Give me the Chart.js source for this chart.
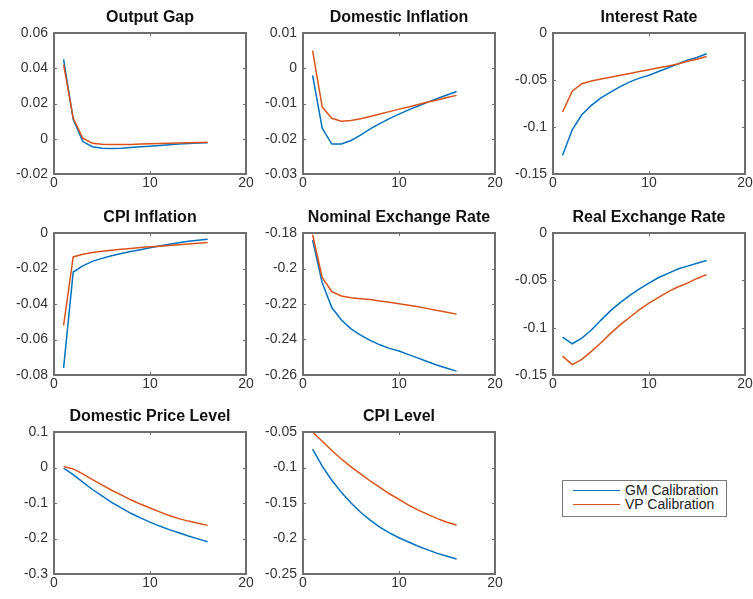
<!DOCTYPE html>
<html><head><meta charset="utf-8">
<script src="https://cdn.jsdelivr.net/npm/chart.js@4"></script>
<style>
html,body{margin:0;padding:0;background:#fff;}
body{width:753px;height:599px;position:relative;overflow:hidden;font-family:"Liberation Sans",Arial,Helvetica,sans-serif;}
canvas{position:absolute;}
#legend{position:absolute;left:562px;top:480px;width:163px;height:35px;border:1px solid #7a7a7a;background:#fff;}
.row{position:absolute;left:0;height:14px;width:100%;}
.row .ln{position:absolute;left:10px;top:7px;width:47px;height:0;border-top:1.5px solid;}
.row .tx{position:absolute;left:62px;top:-1px;font-size:14px;line-height:16px;color:#222;white-space:nowrap;}
</style></head><body>
<div id="legend"></div>
<script>
// ---------- data ----------
const periods = [1,2,3,4,5,6,7,8,9,10,11,12,13,14,15,16];
const seriesNames = ['GM Calibration','VP Calibration'];
const xTicks = [0,10,20];

const outputGapGM = [0.045,0.011,-0.0016,-0.0045,-0.0054,-0.0056,-0.0054,-0.0050,-0.0046,-0.0042,-0.0038,-0.0034,-0.0030,-0.0027,-0.0024,-0.0022];
const outputGapVP = [0.042,0.0117,0.0003,-0.0026,-0.0031,-0.0033,-0.0033,-0.0032,-0.0030,-0.0029,-0.0027,-0.0026,-0.0024,-0.0023,-0.0021,-0.0020];
const outputGapTicks = [-0.02,0,0.02,0.04,0.06];

const domInflGM = [-0.002,-0.017,-0.0215,-0.0215,-0.0205,-0.019,-0.0172,-0.0157,-0.0143,-0.013,-0.0118,-0.0107,-0.0096,-0.0086,-0.0076,-0.0066];
const domInflVP = [0.005,-0.011,-0.0142,-0.0150,-0.0148,-0.0143,-0.0137,-0.0130,-0.0123,-0.0116,-0.0110,-0.0103,-0.0096,-0.0090,-0.0083,-0.0077];
const domInflTicks = [-0.03,-0.02,-0.01,0,0.01];

const interestGM = [-0.130,-0.103,-0.087,-0.077,-0.069,-0.063,-0.057,-0.052,-0.048,-0.045,-0.041,-0.037,-0.033,-0.029,-0.026,-0.022];
const interestVP = [-0.084,-0.062,-0.054,-0.051,-0.049,-0.047,-0.045,-0.043,-0.041,-0.039,-0.037,-0.035,-0.033,-0.030,-0.028,-0.025];
const interestTicks = [-0.15,-0.1,-0.05,0];

const cpiInflGM = [-0.076,-0.022,-0.0185,-0.016,-0.0143,-0.0128,-0.0115,-0.0104,-0.0094,-0.0083,-0.0073,-0.0063,-0.0055,-0.0047,-0.0041,-0.0035];
const cpiInflVP = [-0.052,-0.0135,-0.012,-0.011,-0.0103,-0.0097,-0.0092,-0.0087,-0.0082,-0.0078,-0.0074,-0.0070,-0.0066,-0.0062,-0.0058,-0.0054];
const cpiInflTicks = [-0.08,-0.06,-0.04,-0.02,0];

const nomExGM = [-0.184,-0.208,-0.222,-0.229,-0.234,-0.2375,-0.2405,-0.243,-0.245,-0.2465,-0.2485,-0.2505,-0.2525,-0.2545,-0.2562,-0.2578];
const nomExVP = [-0.181,-0.205,-0.213,-0.2155,-0.2165,-0.217,-0.2175,-0.2183,-0.219,-0.2198,-0.2207,-0.2216,-0.2226,-0.2236,-0.2246,-0.2257];
const nomExTicks = [-0.26,-0.24,-0.22,-0.2,-0.18];

const realExGM = [-0.110,-0.117,-0.111,-0.1025,-0.092,-0.082,-0.0736,-0.066,-0.059,-0.053,-0.047,-0.0426,-0.038,-0.035,-0.032,-0.029];
const realExVP = [-0.130,-0.139,-0.1335,-0.125,-0.116,-0.106,-0.097,-0.089,-0.081,-0.074,-0.068,-0.062,-0.057,-0.053,-0.048,-0.044];
const realExTicks = [-0.15,-0.1,-0.05,0];

const domPriceGM = [-0.002,-0.02,-0.041,-0.062,-0.08,-0.098,-0.114,-0.129,-0.142,-0.154,-0.165,-0.175,-0.184,-0.193,-0.201,-0.209];
const domPriceVP = [0.003,-0.004,-0.018,-0.034,-0.049,-0.064,-0.077,-0.091,-0.103,-0.114,-0.125,-0.135,-0.144,-0.151,-0.157,-0.163];
const domPriceTicks = [-0.3,-0.2,-0.1,0,0.1];

const cpiLevelGM = [-0.074,-0.098,-0.118,-0.135,-0.150,-0.163,-0.174,-0.184,-0.192,-0.199,-0.205,-0.211,-0.216,-0.221,-0.225,-0.229];
const cpiLevelVP = [-0.050,-0.063,-0.076,-0.088,-0.099,-0.109,-0.119,-0.128,-0.137,-0.145,-0.153,-0.160,-0.166,-0.172,-0.177,-0.181];
const cpiLevelTicks = [-0.25,-0.2,-0.15,-0.1,-0.05];

const panelTitles = ['Output Gap','Domestic Inflation','Interest Rate','CPI Inflation','Nominal Exchange Rate','Real Exchange Rate','Domestic Price Level','CPI Level'];
const panelGM = [outputGapGM,domInflGM,interestGM,cpiInflGM,nomExGM,realExGM,domPriceGM,cpiLevelGM];
const panelVP = [outputGapVP,domInflVP,interestVP,cpiInflVP,nomExVP,realExVP,domPriceVP,cpiLevelVP];
const panelTicks = [outputGapTicks,domInflTicks,interestTicks,cpiInflTicks,nomExTicks,realExTicks,domPriceTicks,cpiLevelTicks];

// ---------- layout / style ----------
const COLORS = ['#0072BD','#D95319'];
const FONT = '"Liberation Sans", Arial, Helvetica, sans-serif';
const boxLefts = [54,303,553];
const boxTops = [33,233,432];
const boxHeights = [141,142,142];
const BOX_W = 192, LEFT_AXIS = 54, TOP_PAD = 33, RIGHT_PAD = 12, BOTTOM_AXIS = 26;

const framePlugin = {
  id:'frame',
  afterDraw(chart, args, opts){
    const {ctx, chartArea:a, scales} = chart;
    const x = scales.x, y = scales.y;
    ctx.save();
    ctx.strokeStyle = '#6e6e6e';
    ctx.lineWidth = 1;
    ctx.beginPath();
    x.ticks.forEach(t=>{
      const p = Math.round(x.getPixelForValue(t.value))+0.5;
      ctx.moveTo(p,a.bottom); ctx.lineTo(p,a.bottom-3);
      ctx.moveTo(p,a.top); ctx.lineTo(p,a.top+3);
    });
    y.ticks.forEach(t=>{
      const p = Math.round(y.getPixelForValue(t.value))+0.5;
      ctx.moveTo(a.left,p); ctx.lineTo(a.left+3,p);
      ctx.moveTo(a.right,p); ctx.lineTo(a.right-3,p);
    });
    ctx.stroke();
    ctx.lineWidth = 2;
    ctx.strokeRect(a.left, a.top, a.right-a.left, a.bottom-a.top);
    ctx.fillStyle = '#111';
    ctx.font = 'bold 16px ' + FONT;
    ctx.textAlign = 'center';
    ctx.textBaseline = 'middle';
    ctx.fillText(opts.text, (a.left+a.right)/2, a.top-15);
    ctx.restore();
  }
};

panelTitles.forEach((title,i)=>{
  const col = i%3, row = Math.floor(i/3);
  const bh = boxHeights[row];
  const cv = document.createElement('canvas');
  const W = LEFT_AXIS + BOX_W + RIGHT_PAD;
  const H = TOP_PAD + bh + BOTTOM_AXIS;
  cv.width = W; cv.height = H;
  cv.style.left = (boxLefts[col]-LEFT_AXIS)+'px';
  cv.style.top = (boxTops[row]-TOP_PAD)+'px';
  cv.style.width = W+'px'; cv.style.height = H+'px';
  document.body.appendChild(cv);
  const ticks = panelTicks[i];
  new Chart(cv, {
    type:'line',
    data:{
      datasets:[
        {label:seriesNames[0], data:periods.map((p,k)=>({x:p,y:panelGM[i][k]})), borderColor:COLORS[0], borderWidth:1.5, pointRadius:0, tension:0, fill:false, order:1},
        {label:seriesNames[1], data:periods.map((p,k)=>({x:p,y:panelVP[i][k]})), borderColor:COLORS[1], borderWidth:1.5, pointRadius:0, tension:0, fill:false, order:0}
      ]
    },
    options:{
      responsive:false, animation:false, devicePixelRatio:1,
      layout:{padding:{top:TOP_PAD,right:RIGHT_PAD,left:0,bottom:0}},
      plugins:{legend:{display:false}, tooltip:{enabled:false}, title:{display:false}, frame:{text:title}},
      scales:{
        x:{type:'linear', min:xTicks[0], max:xTicks[xTicks.length-1],
           afterBuildTicks:s=>{s.ticks = xTicks.map(v=>({value:v}));},
           afterFit:s=>{s.height = BOTTOM_AXIS;},
           grid:{display:false, drawTicks:false}, border:{display:false},
           ticks:{font:{family:FONT,size:14}, color:'#333', padding:1, maxRotation:0, autoSkip:false}},
        y:{type:'linear', min:ticks[0], max:ticks[ticks.length-1],
           afterBuildTicks:s=>{s.ticks = ticks.map(v=>({value:v}));},
           afterFit:s=>{s.width = LEFT_AXIS;},
           grid:{display:false, drawTicks:false}, border:{display:false},
           ticks:{font:{family:FONT,size:14}, color:'#333', padding:6, autoSkip:false,
                  callback:v=>String(+Number(v).toFixed(4))}}
      }
    },
    plugins:[framePlugin]
  });
});

// legend
const lg = document.getElementById('legend');
seriesNames.forEach((n,k)=>{
  const r = document.createElement('div');
  r.className='row';
  r.style.top = (2+k*14)+'px';
  r.innerHTML = '<span class="ln" style="border-color:'+COLORS[k]+'"></span><span class="tx">'+n+'</span>';
  lg.appendChild(r);
});
</script>
</body></html>
